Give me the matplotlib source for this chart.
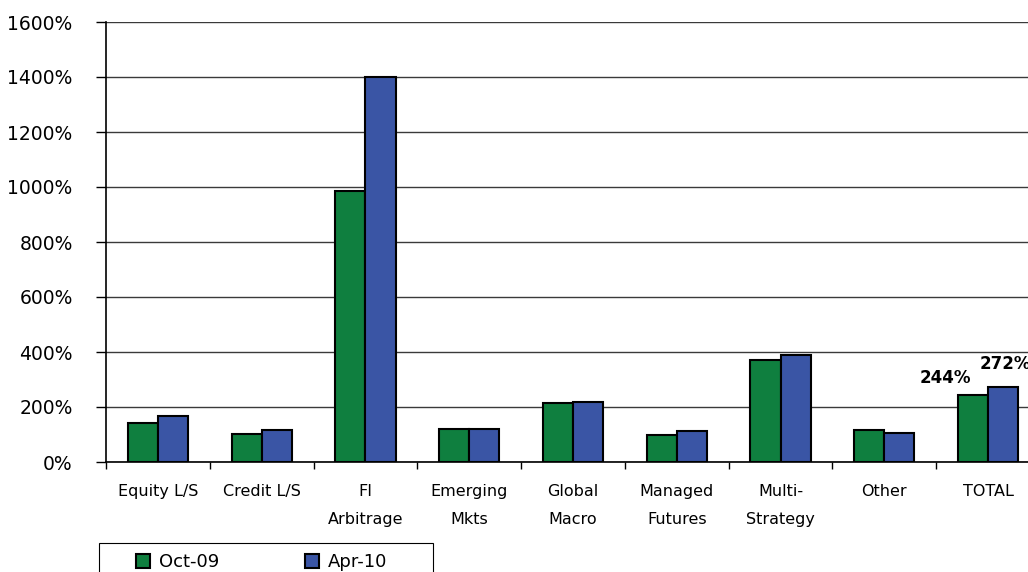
import numpy as np
import matplotlib
matplotlib.use('Agg')
import matplotlib.pyplot as plt
from matplotlib.patches import Rectangle
from matplotlib.ticker import FuncFormatter, FixedLocator

# Leverage by strategy, two survey dates
strategies = ['Equity L/S', 'Credit L/S', 'FI\nArbitrage', 'Emerging\nMkts', 'Global\nMacro',
              'Managed\nFutures', 'Multi-\nStrategy', 'Other', 'TOTAL']
oct_09 = [142, 102, 985, 120, 213, 99, 371, 115, 244]
apr_10 = [167, 116, 1400, 120, 219, 114, 390, 105, 272]

green = '#0f7f3f'
blue = '#3a55a5'

W, H = 1028, 572
fig = plt.figure(figsize=(W / 100, H / 100), dpi=100)
ax = fig.add_axes([106 / W, 1 - 462 / H, 934 / W, 440 / H])

x = np.arange(len(strategies))
w = 0.29
b1 = ax.bar(x - w / 2, oct_09, w, color=green, edgecolor='black', linewidth=1.5, label='Oct-09', zorder=3)
b2 = ax.bar(x + w / 2, apr_10, w, color=blue, edgecolor='black', linewidth=1.5, label='Apr-10', zorder=3)

ax.set_xlim(-0.5, len(strategies) - 0.5)
ax.set_ylim(0, 1600)
ax.set_yticks(np.arange(0, 1601, 200))
ax.yaxis.set_major_formatter(FuncFormatter(lambda v, p: f'{int(v)}%'))
ax.grid(axis='y', color='#3a3a3a', linewidth=1.0, zorder=0)
ax.tick_params(axis='y', length=7, width=1, labelsize=13.5, pad=17)

ax.set_xticks(x)
ax.set_xticklabels(strategies, fontsize=11.5, linespacing=2.1)
ax.xaxis.set_minor_locator(FixedLocator(np.arange(-0.5, len(strategies), 1.0)))
ax.tick_params(axis='x', which='major', length=0, pad=16)
ax.tick_params(axis='x', which='minor', length=5, width=1)

for s in ['top', 'right']:
    ax.spines[s].set_visible(False)
ax.spines['left'].set_linewidth(1.2)
ax.spines['bottom'].set_linewidth(1.2)

# value labels on the TOTAL group
ax.text(x[-1] - w / 2 - 0.27, oct_09[-1] + 30, f'{oct_09[-1]}%', ha='center', va='bottom',
        fontsize=12, fontweight='bold')
ax.text(x[-1] + w / 2 + 0.02, apr_10[-1] + 52, f'{apr_10[-1]}%', ha='center', va='bottom',
        fontsize=12, fontweight='bold')

# legend box sits below the axis labels, running off the bottom edge
fig.patches.append(Rectangle((99 / W, -0.05), 334 / W, 0.05 + 1 - 543 / H, transform=fig.transFigure,
                             facecolor='white', edgecolor='black', linewidth=0.8))
leg = fig.legend(handles=[b1, b2], loc='center left', bbox_to_anchor=(136 / W, 1 - 562 / H),
                 ncol=2, fontsize=13, frameon=False,
                 handlelength=0.8, handleheight=0.8, handletextpad=0.5, columnspacing=4.7,
                 borderpad=0, borderaxespad=0)

fig.savefig('out.png', dpi=100)
